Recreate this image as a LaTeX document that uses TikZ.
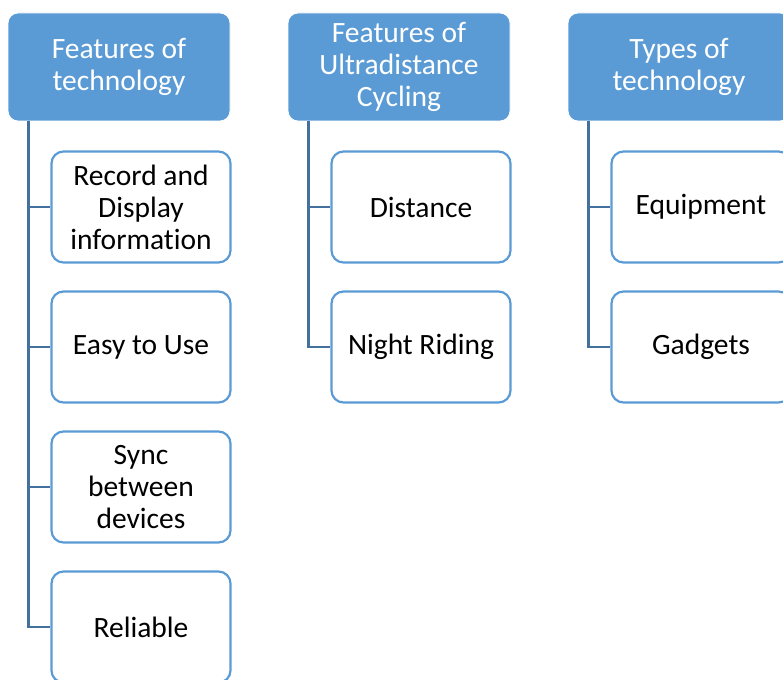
\documentclass[tikz,border=0pt]{standalone}
\usepackage{fontspec}
\setmainfont{Carlito}[Ligatures={NoCommon}]
\definecolor{hdrblue}{HTML}{5B9BD5}
\definecolor{linkblue}{HTML}{41719C}
\tikzset{
  x=1pt, y=-1pt,
  hdr/.style={draw=white, line width=0.8pt, fill=hdrblue, rounded corners=10pt,
    minimum width=222pt, minimum height=108pt, align=center, text=white,
    font=\fontsize{29.5}{32}\selectfont, inner sep=0pt},
  item/.style={draw=hdrblue, line width=2.2pt, fill=white, rounded corners=12pt,
    minimum width=179pt, minimum height=111pt, align=center, text=black,
    font=\fontsize{29.5}{32}\selectfont, inner sep=0pt},
  link/.style={draw=linkblue, line width=2.6pt}
}
\begin{document}
\begin{tikzpicture}
\useasboundingbox (0,0) rectangle (783,679);

% column headers
\node[hdr] (h1) at (119,67) {Features of\\technology};
\node[hdr] (h2) at (399,67) {Features of\\Ultradistance\\Cycling};
\node[hdr] (h3) at (679,67) {Types of\\technology};

% first column
\node[item] (a1) at (141,207) {Record and\\Display\\information};
\node[item] (a2) at (141,347) {Easy to Use};
\node[item] (a3) at (141,487) {Sync\\between\\devices};
\node[item] (a4) at (141,627) {Reliable};

% second column
\node[item] (b1) at (421,207) {Distance};
\node[item] (b2) at (421,347) {Night Riding};

% third column
\node[item] (c1) at (701,207) {Equipment};
\node[item] (c2) at (701,347) {Gadgets};

% connectors: spine below each header, branch to each item
\coordinate (s1) at ([xshift=21pt]h1.south west);
\coordinate (s2) at ([xshift=21pt]h2.south west);
\coordinate (s3) at ([xshift=21pt]h3.south west);
\begin{scope}[on background layer/.try]
\foreach \t in {a1,a2,a3,a4} \draw[link] (s1) |- (\t.west);
\foreach \t in {b1,b2} \draw[link] (s2) |- (\t.west);
\foreach \t in {c1,c2} \draw[link] (s3) |- (\t.west);
\end{scope}
\end{tikzpicture}
\end{document}
